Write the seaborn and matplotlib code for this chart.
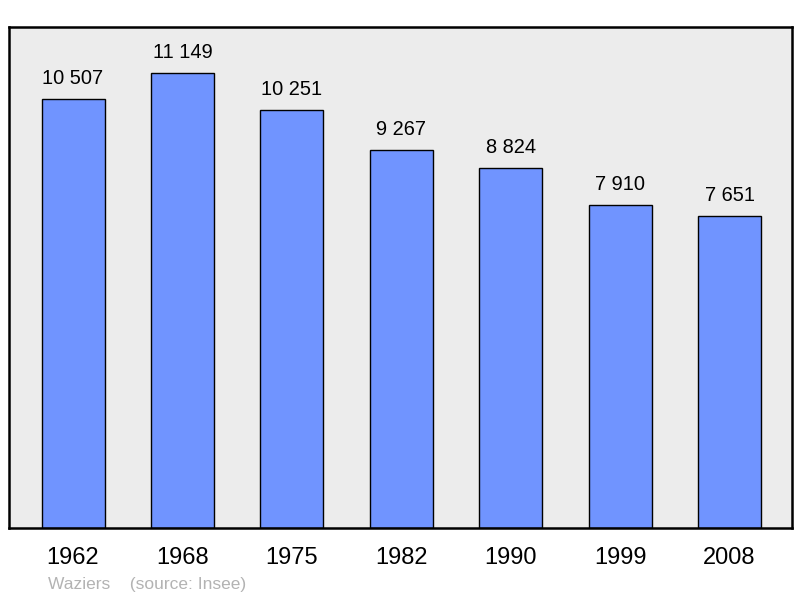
import pandas as pd
import seaborn as sns
import matplotlib.pyplot as plt

years = ['1962', '1968', '1975', '1982', '1990', '1999', '2008']
population = [10507, 11149, 10251, 9267, 8824, 7910, 7651]
labels = ['10 507', '11 149', '10 251', '9 267', '8 824', '7 910', '7 651']

df = pd.DataFrame({'year': years, 'population': population})

sns.set_style('white')
plt.rcParams['font.family'] = ['Liberation Sans', 'DejaVu Sans']
plt.rcParams['text.color'] = 'black'
plt.rcParams['xtick.color'] = 'black'

fig = plt.figure(figsize=(8, 5.98), dpi=100)
ax = fig.add_axes([9 / 800, 1 - 528 / 598, 783 / 800, 501 / 598])
ax.set_facecolor('#ececec')

sns.barplot(x='year', y='population', data=df, color='#7094ff', saturation=1,
            width=0.576, edgecolor='black', linewidth=1, ax=ax)
ax.bar_label(ax.containers[0], labels=labels, padding=8, fontsize=14.4,
             color='black')

ax.set_xlim(-0.585, 6.57)
ax.set_ylim(0, 12280)
ax.set_yticks([])
ax.set_xlabel('')
ax.set_ylabel('')
ax.tick_params(axis='x', length=0, pad=14, labelsize=17, labelcolor='black')
for s in ax.spines.values():
    s.set_visible(True)
    s.set_linewidth(1.8)
    s.set_color('black')

fig.text(48 / 800, 1 - 584 / 598, 'Waziers    (source: Insee)', color='#b3b3b3',
         fontsize=12.5, va='center')

plt.savefig('out.png', dpi=100)
